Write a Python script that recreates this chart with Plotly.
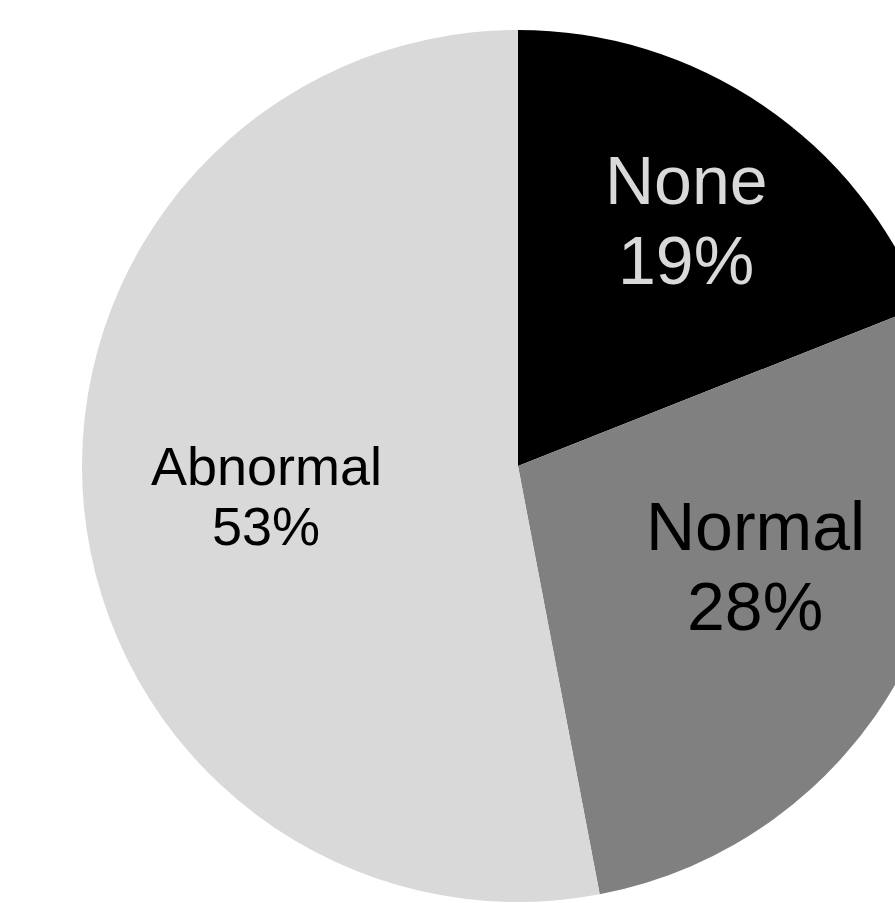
import plotly.graph_objects as go

# Share of responses by category
labels = ["None", "Normal", "Abnormal"]
values = [19, 28, 53]

slice_colors = ["#000000", "#808080", "#d9d9d9"]
text_colors = ["#d9d9d9", "#000000", "#000000"]
text_sizes = [68, 68, 54]
# label placement in pixels: (x, y of name line, y of percent line)
label_px = [(686, 180, 260), (755, 526, 606), (266, 466, 526)]

W, H = 1036, 903
CX, CY, R = 518, 466, 436

fig = go.Figure(
    go.Pie(
        labels=labels,
        values=values,
        sort=False,
        direction="clockwise",
        rotation=0,
        marker=dict(colors=slice_colors, line=dict(width=0)),
        textinfo="none",
        hoverinfo="label+percent",
        domain=dict(x=[0, 1], y=[1 - (CY + R) / H, 1 - (CY - R) / H]),
        showlegend=False,
    )
)

total = sum(values)
annotations = []
for lab, val, col, size, (px, py1, py2) in zip(
    labels, values, text_colors, text_sizes, label_px
):
    pct = f"{round(val / total * 100)}%"
    for txt, py in ((lab, py1), (pct, py2)):
        annotations.append(
            dict(
                text=txt,
                x=px / W,
                y=1 - py / H,
                xref="paper",
                yref="paper",
                xanchor="center",
                yanchor="middle",
                showarrow=False,
                font=dict(family="Arial, Liberation Sans, sans-serif", size=size, color=col),
            )
        )

fig.update_layout(
    width=W,
    height=H,
    autosize=False,
    margin=dict(l=0, r=0, t=0, b=0),
    paper_bgcolor="white",
    plot_bgcolor="white",
    annotations=annotations,
)

fig.write_html(
    "out.html",
    post_script=(
        "document.documentElement.style.overflow='hidden';"
        "document.body.style.overflow='hidden';"
        "document.body.style.margin='0';"
    ),
)
